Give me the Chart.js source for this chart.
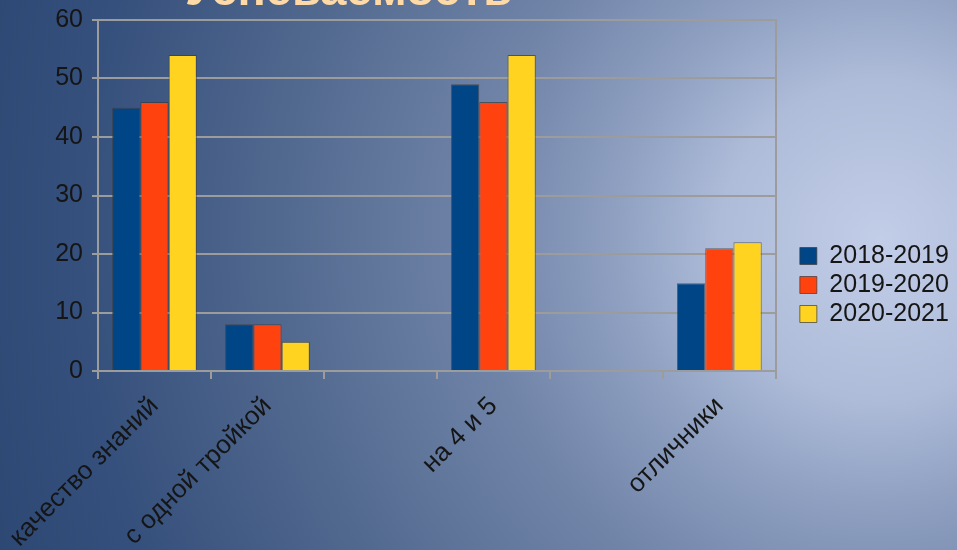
<!DOCTYPE html>
<html>
<head>
<meta charset="utf-8">
<script src="https://cdn.jsdelivr.net/npm/chart.js@4/dist/chart.umd.min.js"></script>
<style>
  html, body {
    margin: 0;
    padding: 0;
    overflow: hidden;
  }
  body {
    width: 957px;
    height: 550px;
    background: radial-gradient(circle 980px at 880px 240px,
      #c2cde8 0px, #aebcd9 160px, #90a1c2 260px, #7084a8 400px,
      #52698f 600px, #35507c 800px, #2b4571 980px);
  }
  .chart-box {
    position: relative;
    width: 957px;
    height: 550px;
  }
</style>
</head>
<body>
<div class="chart-box">
  <canvas id="progressChart"></canvas>
</div>
<script>
// Chart data
const chartTitle = 'Успеваемость';
const categories = ['качество знаний', 'с одной тройкой', '', 'на 4 и 5', '', 'отличники'];
const seriesNames = ['2018-2019', '2019-2020', '2020-2021'];
const values2018 = [45, 8, null, 49, null, 15];
const values2019 = [46, 8, null, 46, null, 21];
const values2020 = [54, 5, null, 54, null, 22];
const yTicks = [0, 10, 20, 30, 40, 50, 60];

const seriesColors = ['#004586', '#ff420e', '#ffd320'];
const gridColor = '#9c9c9c';
const textColor = '#151515';
const fontFamily = '"Liberation Sans", Arial, sans-serif';

// Title sits mostly above the top edge, only its bottom is visible
const cutTitlePlugin = {
  id: 'cutTitle',
  afterDraw: function(chart) {
    const ctx = chart.ctx;
    ctx.save();
    ctx.font = 'bold 47px ' + fontFamily;
    ctx.fillStyle = '#ffd9a6';
    ctx.textAlign = 'left';
    ctx.textBaseline = 'alphabetic';
    ctx.fillText(chartTitle, 185, 5);
    ctx.restore();
  }
};

function makeDataset(index, values) {
  return {
    label: seriesNames[index],
    data: values,
    backgroundColor: seriesColors[index],
    borderColor: 'rgba(60, 60, 60, 0.7)',
    borderWidth: 1,
    barPercentage: 1.0,
    categoryPercentage: 0.75
  };
}

function initProgressChart() {
  const ctx = document.getElementById('progressChart').getContext('2d');

  return new Chart(ctx, {
    type: 'bar',
    data: {
      labels: categories,
      datasets: [
        makeDataset(0, values2018),
        makeDataset(1, values2019),
        makeDataset(2, values2020)
      ]
    },
    options: {
      responsive: true,
      maintainAspectRatio: false,
      animation: false,
      layout: {
        padding: { top: 20, right: 2, bottom: 0, left: 0 }
      },
      plugins: {
        title: { display: false },
        tooltip: { enabled: false },
        legend: {
          position: 'right',
          align: 'center',
          labels: {
            color: textColor,
            boxWidth: 17,
            boxHeight: 17,
            padding: 4,
            font: { family: fontFamily, size: 25 }
          }
        }
      },
      scales: {
        x: {
          grid: {
            display: true,
            drawOnChartArea: false,
            drawTicks: true,
            tickLength: 8,
            color: gridColor,
            lineWidth: 2
          },
          border: { display: true, color: gridColor, width: 2 },
          ticks: {
            color: textColor,
            minRotation: 45,
            maxRotation: 45,
            autoSkip: false,
            padding: 12,
            font: { family: fontFamily, size: 26 }
          },
          afterFit: function(scale) {
            // rotated labels may run past the left edge, as in the original
            scale.height = 179;
            scale.paddingLeft = 0;
            scale.paddingRight = 0;
          }
        },
        y: {
          min: 0,
          max: 60,
          afterBuildTicks: function(scale) {
            scale.ticks = yTicks.map(v => ({ value: v }));
          },
          grid: {
            color: gridColor,
            lineWidth: 2,
            drawTicks: true,
            tickLength: 6
          },
          border: { display: true, color: gridColor, width: 2 },
          ticks: {
            color: textColor,
            padding: 9,
            font: { family: fontFamily, size: 25 }
          },
          afterFit: function(scale) {
            scale.width = 98;
            scale.paddingTop = 0;
            scale.paddingBottom = 0;
          }
        },
        yRight: {
          position: 'right',
          min: 0,
          max: 60,
          grid: { display: false, drawTicks: false },
          ticks: { display: false },
          border: { display: true, color: gridColor, width: 2 },
          afterFit: function(scale) {
            scale.width = 20;
            scale.paddingTop = 0;
            scale.paddingBottom = 0;
          }
        }
      }
    },
    plugins: [cutTitlePlugin]
  });
}

document.addEventListener('DOMContentLoaded', function() {
  try {
    initProgressChart();
  } catch (error) {
    console.error('Error creating chart:', error);
  }
});
</script>
</body>
</html>
